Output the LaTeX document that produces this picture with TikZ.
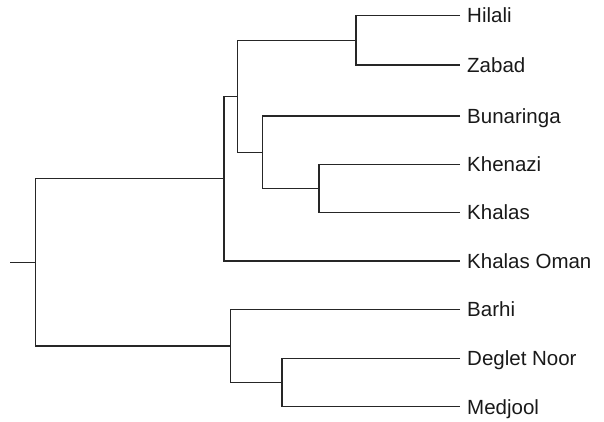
\documentclass[tikz,border=0pt]{standalone}
\usepackage{fontspec}
\setmainfont{Liberation Sans}
\usetikzlibrary{positioning}

\begin{document}
\begin{tikzpicture}[x=1pt, y=-1pt,
    branch/.style={draw=black!85, line width=1.2pt},
    leaflabel/.style={anchor=base west, inner sep=0pt, text=black!90,
      font=\fontsize{20.5}{23}\selectfont}]
  \useasboundingbox (0,0) rectangle (604,422);
  % Leaf tips and their names
  \foreach \name/\y/\txt in {hilali/15.7/Hilali, zabad/65/Zabad, bunaringa/116/Bunaringa,
      khenazi/164.5/Khenazi, khalas/212.5/Khalas, khalasoman/261/Khalas Oman,
      barhi/309.3/Barhi, deglet/358.3/Deglet Noor, medjool/406.7/Medjool}{
    \coordinate (\name) at (460,\y);
    \node[leaflabel] (\name-label) at (467,{\y+7.3}) {\txt};
  }
  % Internal joins
  \coordinate (hz) at (356,40.35);
  \coordinate (kk) at (319,188.5);
  \coordinate (bkk) at (262.7,152.25);
  \coordinate (hzb) at (237.7,96.3);
  \coordinate (ko) at (224,178.65);
  \coordinate (dm) at (282,382.5);
  \coordinate (bdm) at (230.3,345.9);
  \coordinate (root) at (35.7,262.3);
  \coordinate (stem) at (10,262.3);
  % Branches
  \draw[branch] (hilali) -| (hz) |- (zabad);
  \draw[branch] (khenazi) -| (kk) |- (khalas);
  \draw[branch] (bunaringa) -| (bkk) |- (kk);
  \draw[branch] (hz) -| (hzb) |- (bkk);
  \draw[branch] (hzb) -| (ko) |- (khalasoman);
  \draw[branch] (deglet) -| (dm) |- (medjool);
  \draw[branch] (barhi) -| (bdm) |- (dm);
  \draw[branch] (ko) -| (root) |- (bdm);
  % Root stem
  \draw[branch] (stem) -- (root);
\end{tikzpicture}
\end{document}
